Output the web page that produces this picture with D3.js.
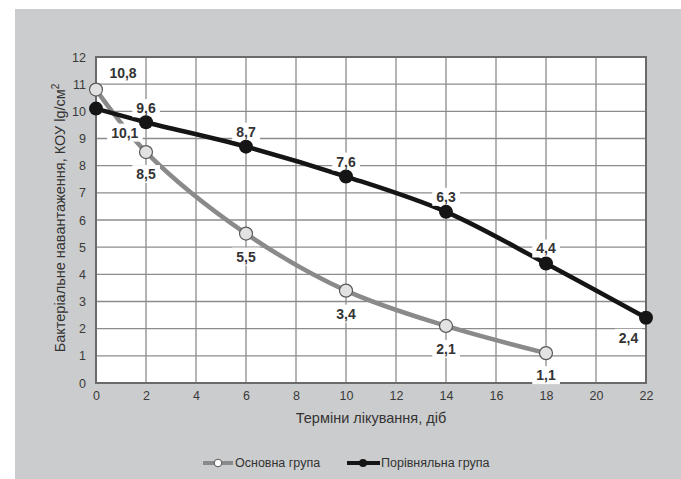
<!DOCTYPE html>
<html><head><meta charset="utf-8">
<script src="https://cdn.jsdelivr.net/npm/d3@7"></script>
<style>body{margin:0;background:#fff}svg{display:block}</style>
</head><body>
<script>
const days = [0, 2, 6, 10, 14, 18, 22];
const mainValues = [10.8, 8.5, 5.5, 3.4, 2.1, 1.1];
const compValues = [10.1, 9.6, 8.7, 7.6, 6.3, 4.4, 2.4];
const xTicks = [0,2,4,6,8,10,12,14,16,18,20,22];
const yTicks = [0,1,2,3,4,5,6,7,8,9,10,11,12];
const seriesNames = ["Основна група", "Порівняльна група"];
const xTitle = "Терміни лікування, діб";
const yTitle = "Бактеріальне навантаження, КОУ lg/см";

// label anchor: [x in data units, pixel offset from point]
const mainLabelPos = [[1.08,-17],[2.0,22],[6,23],[10,23],[14,23],[18,22]];
const compLabelPos = [[1.15,24],[2,-14],[6,-15],[10,-15],[14,-15],[18,-15],[21.3,20]];

const W = 681, H = 479;
const svg = d3.select("body").append("svg").attr("width", W).attr("height", H)
  .style("font-family", "'Liberation Sans', Arial, sans-serif");

svg.append("rect").attr("x", 15).attr("y", 9).attr("width", W - 15).attr("height", H - 9).attr("fill", "#cbcccd");

const x = d3.scaleLinear().domain([0, 22]).range([96, 646]);
const y = d3.scaleLinear().domain([0, 12]).range([383, 57]);

svg.append("rect").attr("x", x(0)).attr("y", y(12)).attr("width", x(22) - x(0)).attr("height", y(0) - y(12)).attr("fill", "#fff");

const grid = svg.append("g");
grid.selectAll("line.v").data(xTicks).join("line")
  .attr("x1", d => x(d)).attr("x2", d => x(d)).attr("y1", y(0)).attr("y2", y(12))
  .attr("stroke", "#8c8c8c").attr("stroke-width", 1.3);
grid.selectAll("line.h").data(yTicks).join("line")
  .attr("x1", x(0)).attr("x2", x(22)).attr("y1", d => y(d)).attr("y2", d => y(d))
  .attr("stroke", "#8c8c8c").attr("stroke-width", 1.3);
svg.append("rect").attr("x", x(0)).attr("y", y(12)).attr("width", x(22) - x(0)).attr("height", y(0) - y(12))
  .attr("fill", "none").attr("stroke", "#6a6a6a").attr("stroke-width", 2);

const xAxis = svg.append("g").attr("transform", `translate(0,${y(0)})`)
  .call(d3.axisBottom(x).tickValues(xTicks).tickSize(0).tickPadding(8));
const yAxis = svg.append("g").attr("transform", `translate(${x(0)},0)`)
  .call(d3.axisLeft(y).tickValues(yTicks).tickSize(0).tickPadding(10));
[xAxis, yAxis].forEach(a => {
  a.select(".domain").remove();
  a.selectAll("text").attr("font-size", 12.5).attr("fill", "#3a3a3a").attr("font-family", "'Liberation Sans', Arial, sans-serif");
});

svg.append("text").attr("x", 371).attr("y", 423).attr("text-anchor", "middle")
  .attr("font-size", 14.5).attr("fill", "#333").text(xTitle);
const yt = svg.append("text").attr("transform", "translate(65,218) rotate(-90)").attr("text-anchor", "middle")
  .attr("font-size", 14.5).attr("fill", "#333");
yt.append("tspan").text(yTitle);
yt.append("tspan").attr("dy", -6).attr("font-size", 10).text("2");

const line = d3.line().x(d => x(d[0])).y(d => y(d[1])).curve(d3.curveCatmullRom.alpha(0.5));
const mainData = mainValues.map((v, i) => [days[i], v]);
const compData = compValues.map((v, i) => [days[i], v]);

svg.append("path").datum(mainData).attr("d", line).attr("fill", "none").attr("stroke", "#8a8a8a").attr("stroke-width", 4.5);
svg.append("path").datum(compData).attr("d", line).attr("fill", "none").attr("stroke", "#151515").attr("stroke-width", 4.5);

const fmt = v => String(v).replace(".", ",");
function addLabels(data, pos) {
  data.forEach((d, i) => {
    const px = x(pos[i][0]);
    const py = y(d[1]) + pos[i][1];
    const g = svg.append("g");
    const t = g.append("text").attr("x", px).attr("y", py).attr("text-anchor", "middle").attr("dominant-baseline", "central")
      .attr("font-size", 14).attr("font-weight", "bold").attr("fill", "#333").text(fmt(d[1]));
    const bb = t.node().getBBox();
    g.insert("rect", "text").attr("x", bb.x - 4).attr("y", bb.y - 1).attr("width", bb.width + 8).attr("height", bb.height + 2).attr("fill", "#fff");
  });
}
addLabels(mainData, mainLabelPos);
addLabels(compData, compLabelPos);

svg.selectAll("circle.m").data(mainData).join("circle")
  .attr("cx", d => x(d[0])).attr("cy", d => y(d[1])).attr("r", 6.5)
  .attr("fill", "#e2e2e2").attr("stroke", "#5a5a5a").attr("stroke-width", 1.2);
svg.selectAll("circle.c").data(compData).join("circle")
  .attr("cx", d => x(d[0])).attr("cy", d => y(d[1])).attr("r", 7)
  .attr("fill", "#151515");

const leg = svg.append("g").attr("transform", "translate(0,463)");
leg.append("line").attr("x1", 203).attr("x2", 233).attr("stroke", "#8a8a8a").attr("stroke-width", 4);
leg.append("circle").attr("cx", 218).attr("r", 3.8).attr("fill", "#fff").attr("stroke", "#555").attr("stroke-width", 1);
leg.append("text").attr("x", 235).attr("y", 0).attr("dominant-baseline", "central").attr("font-size", 12.5).attr("fill", "#333").text(seriesNames[0]);
leg.append("line").attr("x1", 347).attr("x2", 380).attr("stroke", "#151515").attr("stroke-width", 4);
leg.append("circle").attr("cx", 363).attr("r", 4).attr("fill", "#151515");
leg.append("text").attr("x", 381).attr("y", 0).attr("dominant-baseline", "central").attr("font-size", 12.5).attr("fill", "#333").text(seriesNames[1]);
</script>
</body></html>
